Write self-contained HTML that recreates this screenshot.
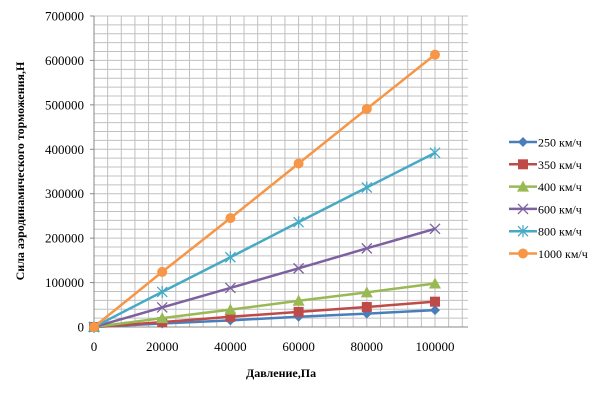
<!DOCTYPE html>
<html><head><meta charset="utf-8"><style>
body{margin:0;background:#fff}
svg{font-family:"Liberation Serif",serif}
</style></head><body>
<svg id="c" width="616" height="410"></svg>
<script>
const xVals=[0,20000,40000,60000,80000,100000];
const seriesNames=["250 км/ч","350 км/ч","400 км/ч","600 км/ч","800 км/ч","1000 км/ч"];
const s250=[0,8000,15000,23000,30000,38000];
const s350=[0,11000,23000,34000,45000,57000];
const s400=[0,20000,39000,59000,78000,98000];
const s600=[0,44000,88000,132000,177000,221000];
const s800=[0,79000,157000,236000,314000,392000];
const s1000=[0,124000,245000,368000,491000,613000];
const xTicks=[0,20000,40000,60000,80000,100000];
const yTicks=[0,100000,200000,300000,400000,500000,600000,700000];
const colors=["#4a7ebb","#be4b48","#98b954","#7d60a0","#46aac5","#f79646"];
const markers=["diamond","square","triangle","x","star","circle"];
const all=[s250,s350,s400,s600,s800,s1000];
const NS="http://www.w3.org/2000/svg";
const svg=document.getElementById('c');
const L=94,R=468,T=16,B=327;
const X=v=>L+(v/100000)*(435-L);
const Y=v=>B-(v/700000)*(B-T);
function el(t,a,p){const e=document.createElementNS(NS,t);for(const k in a)e.setAttribute(k,a[k]);(p||svg).appendChild(e);return e;}
for(let v=0;v<=700000;v+=20000){const g=el('line',{x1:L,x2:R,y1:Y(v),y2:Y(v),stroke:'#c0c0c0','stroke-width':1});

}
for(let v=4000;X(v)<=R+0.5;v+=4000){const g=el('line',{x1:X(v),x2:X(v),y1:T,y2:B,stroke:'#c0c0c0','stroke-width':1});

}
const ax=el('line',{x1:L,x2:L,y1:T,y2:B,stroke:'#888'});


const bx=el('line',{x1:L,x2:R,y1:B,y2:B,stroke:'#888'});


yTicks.forEach(v=>{const t=el('text',{x:L-10,y:Y(v)+4.5,'text-anchor':'end','font-size':13});t.textContent=v;


el('line',{x1:L-4,x2:L,y1:Y(v),y2:Y(v),stroke:'#888'});});
xTicks.forEach(v=>{const t=el('text',{x:X(v),y:351,'text-anchor':'middle','font-size':13});t.textContent=v;

});
const xt=el('text',{x:281,y:377,'text-anchor':'middle','font-size':12,'font-weight':'bold'});xt.textContent='Давление,Па';


const yt=el('text',{x:0,y:0,'text-anchor':'middle','font-size':12,'font-weight':'bold',transform:'translate(24,171) rotate(-90)'});yt.textContent='Сила аэродинамического торможения,Н';


function marker(type,x,y,c,p){
 if(type==='diamond')return el('path',{d:`M${x},${y-5}L${x+5},${y}L${x},${y+5}L${x-5},${y}Z`,fill:c},p);
 if(type==='square')return el('rect',{x:x-5,y:y-5,width:10,height:10,fill:c},p);
 if(type==='triangle')return el('path',{d:`M${x},${y-6}L${x+6},${y+5}L${x-6},${y+5}Z`,fill:c},p);
 if(type==='circle')return el('circle',{cx:x,cy:y,r:5,fill:c},p);
 const g=el('g',{stroke:c,'stroke-width':1.3},p);
 el('line',{x1:x-5,y1:y-5,x2:x+5,y2:y+5},g);el('line',{x1:x-5,y1:y+5,x2:x+5,y2:y-5},g);
 if(type==='star')el('line',{x1:x,y1:y-6,x2:x,y2:y+6},g);
 return g;
}
all.forEach((s,i)=>{
 const g=el('g',{});
 
 
 el('polyline',{points:s.map((v,j)=>X(xVals[j])+','+Y(v)).join(' '),fill:'none',stroke:colors[i],'stroke-width':2.5},g);
 s.forEach((v,j)=>{const m=marker(markers[i],X(xVals[j]),Y(v),colors[i],g);
 
 });
 const ly=142+i*22.3;
 const lg=el('g',{});
 
 
 el('line',{x1:509,x2:537,y1:ly,y2:ly,stroke:colors[i],'stroke-width':2.5},lg);
 marker(markers[i],523,ly,colors[i],lg);
 const t=el('text',{x:538,y:ly+4.5,'font-size':12},lg);t.textContent=seriesNames[i];
});
</script>
</body></html>
